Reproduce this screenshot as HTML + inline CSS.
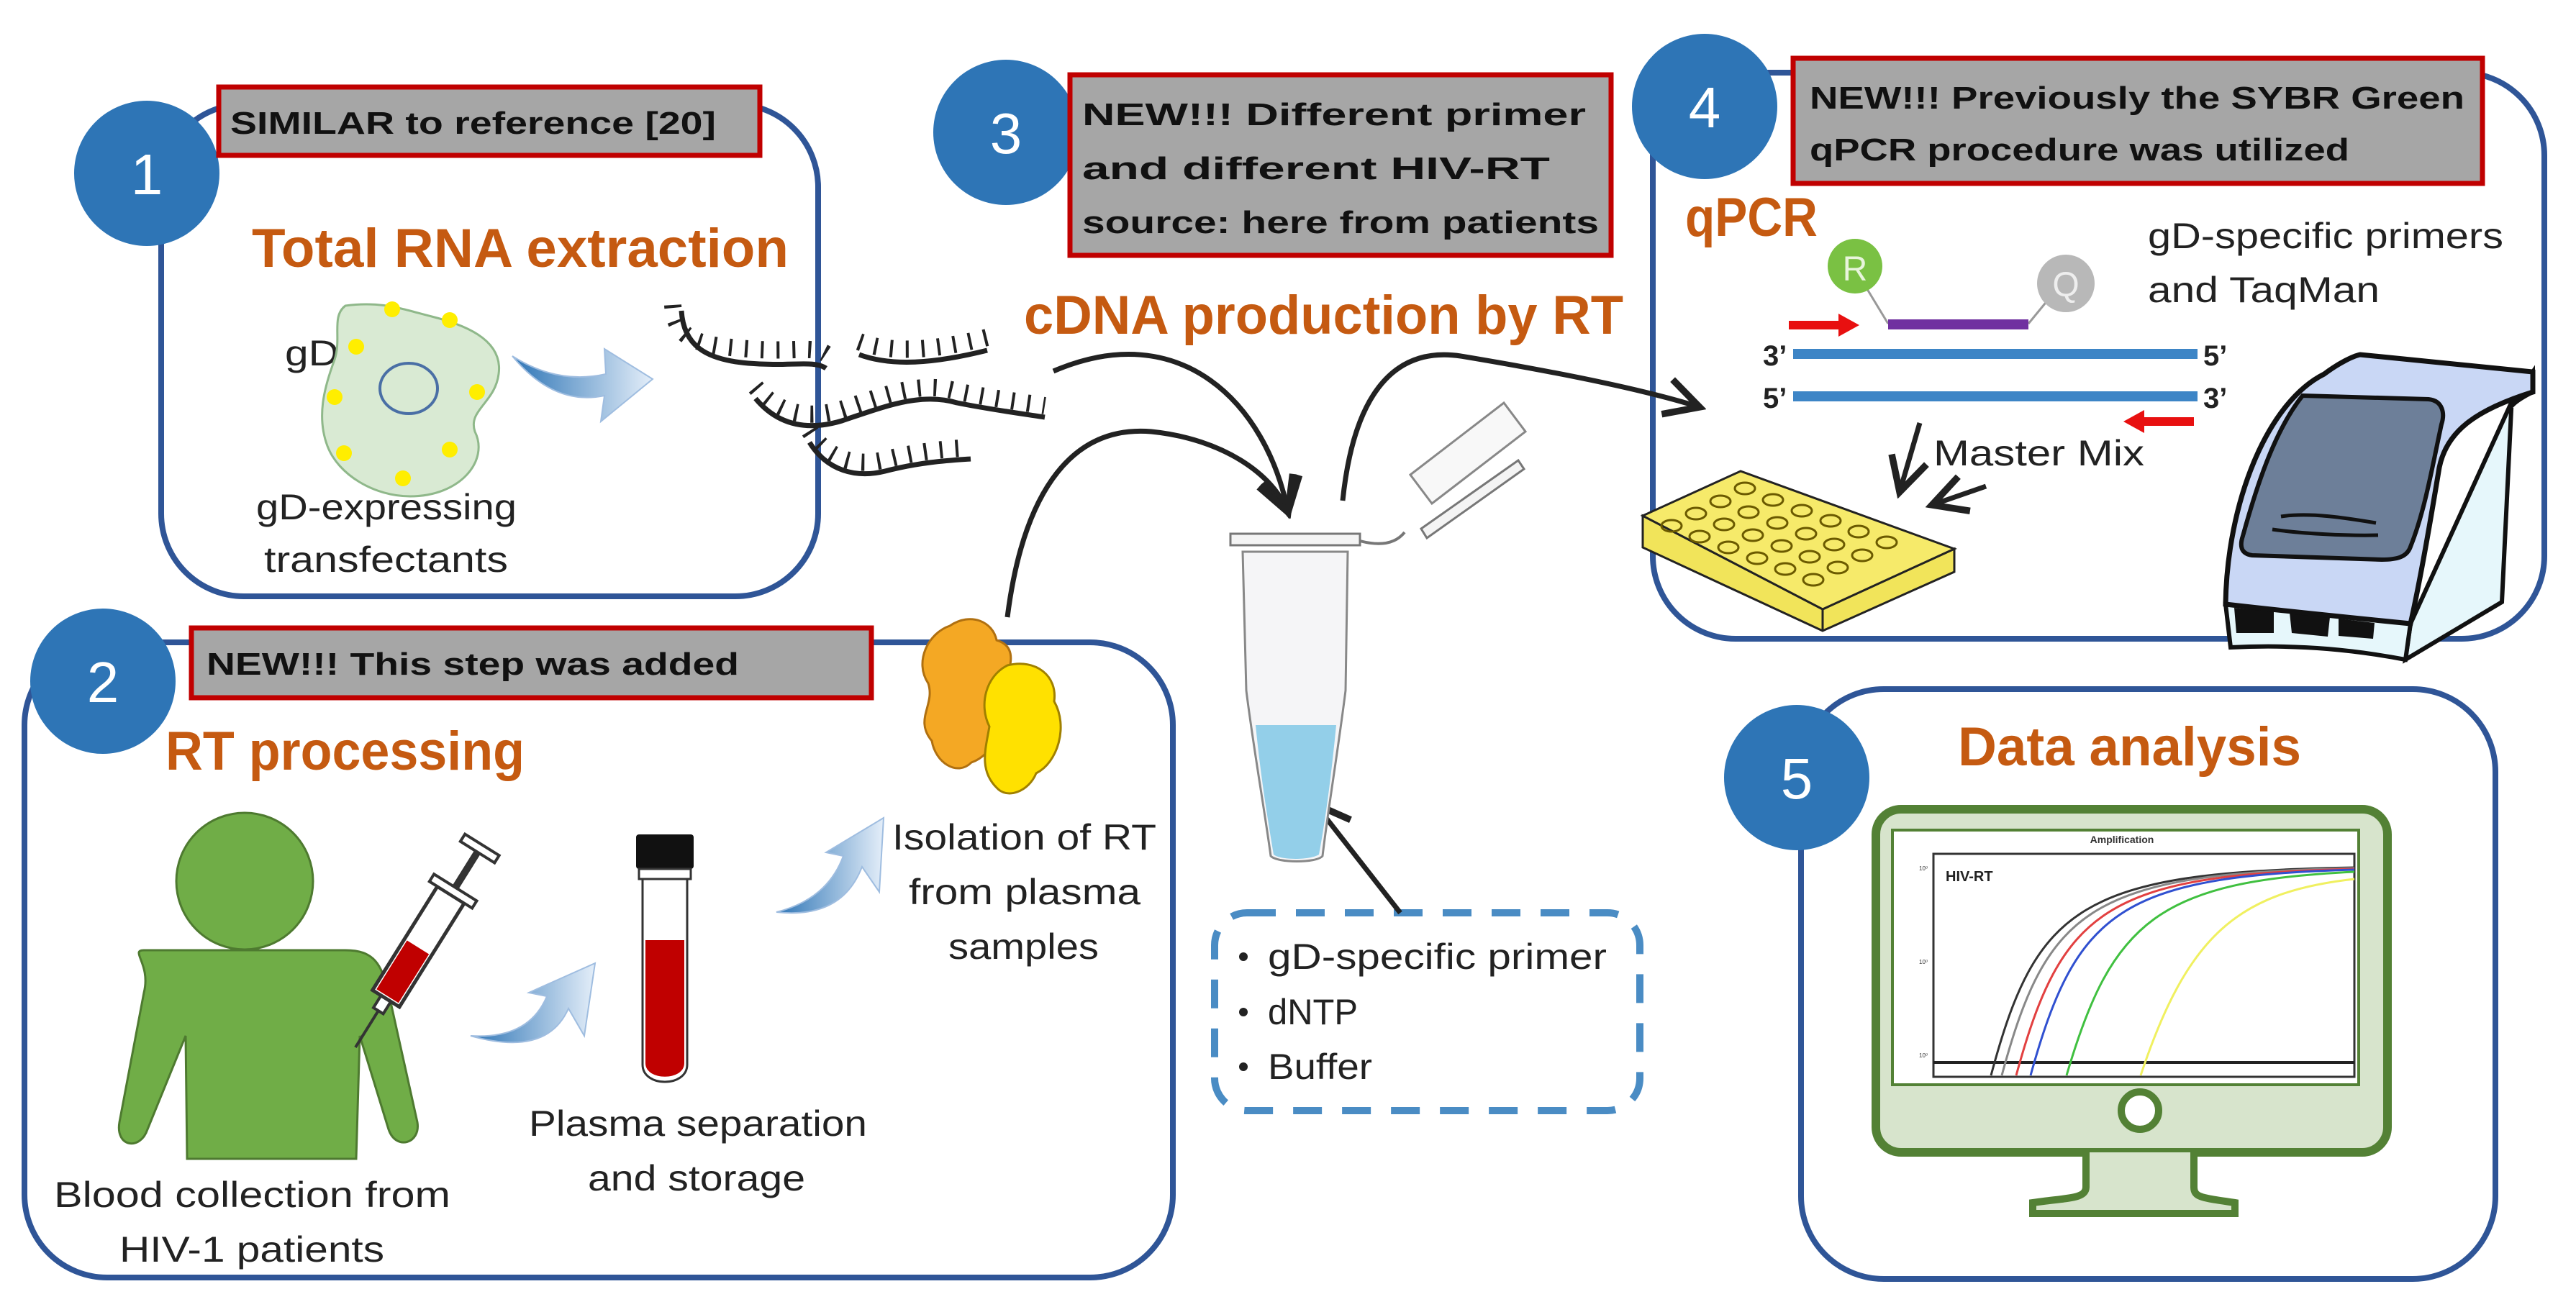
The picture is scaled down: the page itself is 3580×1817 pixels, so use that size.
<!DOCTYPE html>
<html><head><meta charset="utf-8"><style>html,body{margin:0;padding:0;background:#fff}svg{display:block}</style></head>
<body>
<svg width="3580" height="1817" viewBox="0 0 3580 1817" xmlns="http://www.w3.org/2000/svg" font-family="Liberation Sans, sans-serif">
<defs>
<linearGradient id="bg" x1="0" y1="0" x2="1" y2="0"><stop offset="0" stop-color="#2e75b6"/><stop offset="1" stop-color="#e4eef9"/></linearGradient>
<marker id="ah" viewBox="0 0 20 20" refX="17" refY="10" markerWidth="9" markerHeight="9" orient="auto" markerUnits="strokeWidth"><path d="M2,2 L17,10 L2,18" fill="none" stroke="#222" stroke-width="3"/></marker>
</defs>
<rect width="3580" height="1817" fill="#fff"/>

<!-- boxes -->
<g fill="none" stroke="#2f5597" stroke-width="8">
<rect x="224" y="145" width="913" height="684" rx="115"/>
<rect x="34" y="893" width="1596" height="883" rx="115"/>
<rect x="2297" y="101" width="1239" height="787" rx="115"/>
<rect x="2503" y="958" width="965" height="820" rx="115"/>
</g>

<!-- circles -->
<g fill="#2e75b6">
<circle cx="204" cy="241" r="101"/><circle cx="143" cy="947" r="101"/><circle cx="1398" cy="184" r="101"/><circle cx="2369" cy="148" r="101"/><circle cx="2497" cy="1081" r="101"/>
</g>
<g fill="#fff" font-size="80" text-anchor="middle">
<text x="204" y="270">1</text><text x="143" y="976">2</text><text x="1398" y="213">3</text><text x="2369" y="177">4</text><text x="2497" y="1110">5</text>
</g>

<!-- labels -->
<g fill="#a6a6a6" stroke="#c00000" stroke-width="7">
<rect x="304" y="121" width="752" height="95"/>
<rect x="266" y="873" width="945" height="97"/>
<rect x="1487" y="104" width="752" height="251"/>
<rect x="2492" y="81" width="958" height="174"/>
</g>
<g fill="#111" font-size="44" font-weight="bold">
<text x="320" y="186" textLength="675" lengthAdjust="spacingAndGlyphs">SIMILAR to reference [20]</text>
<text x="287" y="938" textLength="740" lengthAdjust="spacingAndGlyphs">NEW!!! This step was added</text>
<text x="1504" y="174" textLength="700" lengthAdjust="spacingAndGlyphs">NEW!!! Different primer</text>
<text x="1504" y="249" textLength="650" lengthAdjust="spacingAndGlyphs">and different HIV-RT</text>
<text x="1504" y="324" textLength="718" lengthAdjust="spacingAndGlyphs">source: here from patients</text>
<text x="2515" y="151" textLength="910" lengthAdjust="spacingAndGlyphs">NEW!!! Previously the SYBR Green</text>
<text x="2515" y="223" textLength="750" lengthAdjust="spacingAndGlyphs">qPCR procedure was utilized</text>
</g>

<!-- orange titles -->
<g fill="#c55a11" font-size="76" font-weight="bold">
<text x="350" y="371" textLength="746" lengthAdjust="spacingAndGlyphs">Total RNA extraction</text>
<text x="1423" y="464" textLength="833" lengthAdjust="spacingAndGlyphs">cDNA production by RT</text>
<text x="2342" y="328" textLength="184" lengthAdjust="spacingAndGlyphs">qPCR</text>
<text x="230" y="1070" textLength="499" lengthAdjust="spacingAndGlyphs">RT processing</text>
<text x="2721" y="1064" textLength="477" lengthAdjust="spacingAndGlyphs">Data analysis</text>
</g>

<!-- body texts -->
<g fill="#222" font-size="50">
<text x="396" y="508" textLength="75" lengthAdjust="spacingAndGlyphs">gD</text>
<text x="356" y="722" textLength="362" lengthAdjust="spacingAndGlyphs">gD-expressing</text>
<text x="367" y="795" textLength="339" lengthAdjust="spacingAndGlyphs">transfectants</text>
<text x="2985" y="345" textLength="494" lengthAdjust="spacingAndGlyphs">gD-specific primers</text>
<text x="2985" y="420" textLength="322" lengthAdjust="spacingAndGlyphs">and TaqMan</text>
<text x="2687" y="647" textLength="293" lengthAdjust="spacingAndGlyphs">Master Mix</text>
<text x="735" y="1579" textLength="470" lengthAdjust="spacingAndGlyphs">Plasma separation</text>
<text x="817" y="1655" textLength="302" lengthAdjust="spacingAndGlyphs">and storage</text>
<text x="75" y="1678" textLength="551" lengthAdjust="spacingAndGlyphs">Blood collection from</text>
<text x="166" y="1754" textLength="368" lengthAdjust="spacingAndGlyphs">HIV-1 patients</text>
<text x="1240" y="1181" textLength="367" lengthAdjust="spacingAndGlyphs">Isolation of RT</text>
<text x="1263" y="1257" textLength="322" lengthAdjust="spacingAndGlyphs">from plasma</text>
<text x="1318" y="1333" textLength="209" lengthAdjust="spacingAndGlyphs">samples</text>
<text x="1762" y="1347" textLength="471" lengthAdjust="spacingAndGlyphs">gD-specific primer</text>
<text x="1762" y="1424" textLength="125" lengthAdjust="spacingAndGlyphs">dNTP</text>
<text x="1762" y="1500" textLength="145" lengthAdjust="spacingAndGlyphs">Buffer</text>
</g>
<g fill="#222"><circle cx="1728" cy="1330" r="6"/><circle cx="1728" cy="1407" r="6"/><circle cx="1728" cy="1483" r="6"/></g>
<rect x="1688" y="1269" width="591" height="275" rx="45" fill="none" stroke="#4a8cc4" stroke-width="10" stroke-dasharray="40 28"/>

<!-- cell -->
<path d="M480,425 C530,418 560,430 600,440 C640,450 700,470 693,520 C688,560 650,570 660,600 C680,640 640,690 570,690 C520,690 470,660 455,620 C440,580 450,540 465,500 C475,470 460,440 480,425 Z" fill="#d9ead3" stroke="#8fb88a" stroke-width="3"/>
<ellipse cx="568" cy="540" rx="40" ry="35" fill="none" stroke="#4a6fa5" stroke-width="4"/>
<g fill="#ffee00"><circle cx="545" cy="430" r="11"/><circle cx="625" cy="445" r="11"/><circle cx="495" cy="482" r="11"/><circle cx="663" cy="545" r="11"/><circle cx="465" cy="552" r="11"/><circle cx="625" cy="625" r="11"/><circle cx="478" cy="630" r="11"/><circle cx="560" cy="665" r="11"/></g>
<path d="M712,495 Q770,565 840,550 L835,586 L907,527 L840,485 L842,520 Q775,535 712,495 Z" fill="url(#bg)" stroke="#9fbde0" stroke-width="2"/>

<!-- RNA strands -->
<g fill="none" stroke="#222" stroke-width="7">
<path d="M947,432 C950,480 980,500 1040,505 C1100,510 1130,500 1148,512"/>
<path d="M1194,493 C1240,510 1300,505 1372,487"/>
<path d="M1050,554 C1080,590 1120,600 1170,585 C1230,565 1280,545 1330,560 C1380,570 1420,575 1452,580"/>
<path d="M1125,615 C1150,655 1190,665 1230,655 C1280,642 1320,640 1349,638"/>
</g>
<g fill="none" stroke="#222" stroke-width="24" stroke-dasharray="4 18">
<path d="M935,432 C938,480 968,488 1040,493 C1100,498 1130,488 1148,500" transform="translate(0,-8)"/>
<path d="M1194,481 C1240,498 1300,493 1372,475" transform="translate(0,-6)"/>
<path d="M1050,542 C1080,578 1120,588 1170,573 C1230,553 1280,533 1330,548 C1380,558 1420,563 1452,568" transform="translate(0,-4)"/>
<path d="M1125,603 C1150,643 1190,653 1230,643 C1280,630 1320,628 1349,626" transform="translate(0,-4)"/>
</g>

<!-- black connector arrows -->
<g fill="none" stroke="#222" stroke-width="7" marker-end="url(#ah)">
<path d="M1464,516 C1640,440 1760,560 1790,712"/>
<path d="M1400,858 C1420,700 1480,590 1600,600 C1700,610 1770,660 1790,712"/>
<path d="M1866,696 C1880,560 1930,480 2030,495 C2150,515 2280,540 2362,566"/>
<path d="M1946,1269 L1828,1118"/>
<path d="M2668,588 L2640,684"/>
<path d="M2760,676 L2685,702"/>
</g>

<!-- eppendorf tube -->
<path d="M1952,740 C1940,755 1920,760 1890,752" fill="none" stroke="#777" stroke-width="4"/>
<path d="M1975,735 L2110,640 L2118,652 L1983,748 Z" fill="#f4f4f4" stroke="#777" stroke-width="3"/>
<path d="M1960,700 L2090,600 L2120,640 L1990,740 Z" fill="#f8f8f8" stroke="#888" stroke-width="3" transform="translate(0,-40)"/>
<rect x="1710" y="742" width="180" height="16" fill="#f4f4f4" stroke="#777" stroke-width="3"/>
<path d="M1727,767 L1873,767 L1870,960 C1860,1040 1845,1130 1838,1190 C1830,1200 1775,1200 1766,1190 C1758,1130 1742,1040 1732,960 Z" fill="#f5f5f7" stroke="#888" stroke-width="3"/>
<path d="M1745,1008 L1857,1008 C1850,1080 1842,1140 1833,1188 C1820,1196 1780,1196 1770,1188 C1762,1140 1752,1080 1745,1008 Z" fill="#93cfe9"/>

<!-- person -->
<path d="M200,1321 L480,1321 C520,1321 530,1340 540,1380 L580,1560 C585,1590 550,1600 540,1570 L500,1440 L495,1611 L260,1611 L258,1440 L205,1570 C195,1600 160,1595 166,1560 L200,1380 C210,1340 180,1321 200,1321 Z" fill="#70ad47" stroke="#4e7a30" stroke-width="3"/>
<circle cx="340" cy="1225" r="95" fill="#70ad47" stroke="#4e7a30" stroke-width="3"/>
<!-- syringe -->
<g transform="translate(494,1456) rotate(-58)">
<line x1="0" y1="0" x2="60" y2="0" stroke="#333" stroke-width="4"/>
<rect x="60" y="-8" width="20" height="16" fill="#fff" stroke="#333" stroke-width="4"/>
<rect x="80" y="-22" width="170" height="44" fill="#fff" stroke="#333" stroke-width="5"/>
<rect x="84" y="-18" width="80" height="36" fill="#c00000"/>
<rect x="250" y="-35" width="12" height="70" fill="#fff" stroke="#333" stroke-width="4"/>
<line x1="262" y1="0" x2="320" y2="0" stroke="#333" stroke-width="10"/>
<rect x="320" y="-28" width="12" height="56" fill="#fff" stroke="#333" stroke-width="4"/>
</g>
<path d="M654,1440 Q735,1445 760,1385 L735,1380 L827,1339 L812,1440 L790,1402 Q760,1470 654,1440 Z" fill="url(#bg)" stroke="#9fbde0" stroke-width="2"/>
<!-- blood tube -->
<rect x="884" y="1160" width="80" height="48" rx="4" fill="#111"/>
<rect x="888" y="1208" width="72" height="14" fill="#fff" stroke="#333" stroke-width="3"/>
<path d="M893,1222 L955,1222 L955,1480 C955,1512 893,1512 893,1480 Z" fill="#fff" stroke="#333" stroke-width="3"/>
<path d="M897,1307 L951,1307 L951,1478 C951,1503 897,1503 897,1478 Z" fill="#c00000"/>
<path d="M1079,1268 Q1150,1250 1172,1190 L1148,1185 L1228,1137 L1222,1240 L1198,1205 Q1170,1278 1079,1268 Z" fill="url(#bg)" stroke="#9fbde0" stroke-width="2"/>
<!-- protein -->
<path d="M1320,870 C1350,850 1380,865 1385,890 C1420,900 1400,940 1390,960 C1410,1000 1380,1050 1350,1060 C1330,1080 1300,1060 1295,1030 C1270,1000 1300,980 1290,950 C1270,920 1290,880 1320,870 Z" fill="#f4a824" stroke="#b07010" stroke-width="3"/>
<path d="M1400,925 C1440,915 1470,940 1465,975 C1485,1010 1470,1060 1440,1075 C1430,1100 1400,1112 1385,1095 C1360,1070 1370,1040 1375,1010 C1360,980 1370,940 1400,925 Z" fill="#ffe100" stroke="#a08000" stroke-width="3"/>

<!-- qPCR diagram -->
<line x1="2578" y1="374" x2="2624" y2="450" stroke="#999" stroke-width="3"/>
<line x1="2819" y1="450" x2="2860" y2="400" stroke="#999" stroke-width="3"/>
<circle cx="2578" cy="370" r="38" fill="#7ac143"/><text x="2578" y="390" text-anchor="middle" fill="#e8f5dc" font-size="48">R</text>
<circle cx="2871" cy="394" r="40" fill="#b8b8b8"/><text x="2871" y="412" text-anchor="middle" fill="#eee" font-size="48">Q</text>
<rect x="2624" y="444" width="195" height="14" fill="#7030a0"/>
<path d="M2486,446 L2555,446 L2555,436 L2584,452 L2555,468 L2555,458 L2486,458 Z" fill="#e81010"/>
<path d="M3049,580 L2980,580 L2980,570 L2951,586 L2980,602 L2980,592 L3049,592 Z" fill="#e81010"/>
<rect x="2492" y="485" width="562" height="14" fill="#3d85c6"/>
<rect x="2492" y="544" width="562" height="14" fill="#3d85c6"/>
<g font-size="40" font-weight="bold" fill="#222">
<text x="2450" y="508">3’</text><text x="3062" y="508">5’</text><text x="2450" y="567">5’</text><text x="3062" y="567">3’</text>
</g>
<!-- plate -->
<path d="M2283,717 L2533,847 L2716,763 L2716,795 L2533,877 L2283,761 Z" fill="#f1e45a" stroke="#222" stroke-width="3"/>
<line x1="2533" y1="847" x2="2533" y2="877" stroke="#222" stroke-width="3"/>
<path d="M2283,717 L2419,655 L2716,763 L2533,847 Z" fill="#f6ea6a" stroke="#222" stroke-width="3"/>
<g fill="none" stroke="#6b5a00" stroke-width="3">
<ellipse cx="2425" cy="679" rx="14" ry="8"/><ellipse cx="2464" cy="695" rx="14" ry="8"/><ellipse cx="2504" cy="710" rx="14" ry="8"/><ellipse cx="2544" cy="724" rx="14" ry="8"/><ellipse cx="2583" cy="739" rx="14" ry="8"/><ellipse cx="2622" cy="754" rx="14" ry="8"/>
<ellipse cx="2391" cy="697" rx="14" ry="8"/><ellipse cx="2430" cy="712" rx="14" ry="8"/><ellipse cx="2470" cy="727" rx="14" ry="8"/><ellipse cx="2510" cy="742" rx="14" ry="8"/><ellipse cx="2549" cy="757" rx="14" ry="8"/><ellipse cx="2588" cy="772" rx="14" ry="8"/>
<ellipse cx="2357" cy="714" rx="14" ry="8"/><ellipse cx="2396" cy="729" rx="14" ry="8"/><ellipse cx="2436" cy="744" rx="14" ry="8"/><ellipse cx="2476" cy="759" rx="14" ry="8"/><ellipse cx="2515" cy="774" rx="14" ry="8"/><ellipse cx="2554" cy="789" rx="14" ry="8"/>
<ellipse cx="2323" cy="731" rx="14" ry="8"/><ellipse cx="2362" cy="746" rx="14" ry="8"/><ellipse cx="2402" cy="761" rx="14" ry="8"/><ellipse cx="2442" cy="776" rx="14" ry="8"/><ellipse cx="2481" cy="791" rx="14" ry="8"/><ellipse cx="2520" cy="806" rx="14" ry="8"/>
</g>
<!-- machine -->
<path d="M3490,560 L3520,517 L3520,545 C3490,560 3485,570 3490,570 L3477,837 L3343,917 L3350,867 Z" fill="#e6f7fb" stroke="#111" stroke-width="6"/>
<path d="M3093,840 L3100,900 C3200,895 3280,905 3343,917 L3350,867 Z" fill="#e6f7fb" stroke="#111" stroke-width="6"/>
<path d="M3105,845 L3160,850 L3160,880 L3108,880 Z M3182,852 L3238,858 L3235,885 L3185,880 Z M3250,860 L3300,866 L3298,888 L3250,884 Z" fill="#111"/>
<path d="M3093,840 C3095,700 3150,560 3230,520 C3250,505 3270,495 3280,493 L3520,517 L3520,545 C3440,570 3400,600 3390,650 C3380,710 3365,800 3350,867 C3280,860 3180,850 3093,840 Z" fill="#c9d7f5" stroke="#111" stroke-width="7"/>
<path d="M3200,550 L3375,555 C3395,557 3398,575 3393,590 C3380,650 3370,710 3350,760 C3345,775 3330,778 3310,778 L3130,772 C3115,770 3112,760 3117,745 C3135,680 3160,600 3200,550 Z" fill="#6d7f99" stroke="#111" stroke-width="6"/>
<path d="M3170,718 C3210,712 3260,720 3302,727 M3158,736 C3200,742 3260,745 3305,744" fill="none" stroke="#111" stroke-width="5"/>

<!-- monitor -->
<rect x="2607" y="1125" width="711" height="477" rx="35" fill="#d7e4cc" stroke="#538135" stroke-width="12"/>
<path d="M2899,1602 L2899,1650 C2899,1665 2880,1665 2840,1670 L2825,1672 L2825,1687 L3106,1687 L3106,1672 C3060,1665 3049,1665 3049,1650 L3049,1602" fill="#d7e4cc" stroke="#538135" stroke-width="10"/>
<circle cx="2974" cy="1544" r="26" fill="#fff" stroke="#538135" stroke-width="10"/>
<rect x="2630" y="1154" width="648" height="354" fill="#fff" stroke="#538135" stroke-width="4"/>
<rect x="2687" y="1187" width="585" height="310" fill="#fff" stroke="#333" stroke-width="3"/>
<text x="2949" y="1172" text-anchor="middle" font-size="14" font-weight="bold" fill="#333">Amplification</text>
<text x="2704" y="1225" font-size="20" font-weight="bold" fill="#222">HIV-RT</text>
<g font-size="8" fill="#333"><text x="2667" y="1210">10⁰</text><text x="2667" y="1340">10⁰</text><text x="2667" y="1470">10⁰</text></g>
<line x1="2687" y1="1477" x2="3272" y2="1477" stroke="#222" stroke-width="4"/>
<g fill="none" stroke-width="3">
<path d="M2767,1495 C2830,1260 2890,1212 3272,1206" stroke="#333"/>
<path d="M2782,1495 C2845,1262 2905,1214 3272,1207" stroke="#888"/>
<path d="M2802,1495 C2865,1265 2925,1216 3272,1208" stroke="#e24040"/>
<path d="M2822,1495 C2885,1268 2945,1218 3272,1209" stroke="#3050d0"/>
<path d="M2872,1495 C2935,1280 3000,1225 3272,1212" stroke="#40c040"/>
<path d="M2975,1495 C3040,1300 3110,1240 3272,1222" stroke="#f0f060"/>
</g>
</svg>
</body></html>
